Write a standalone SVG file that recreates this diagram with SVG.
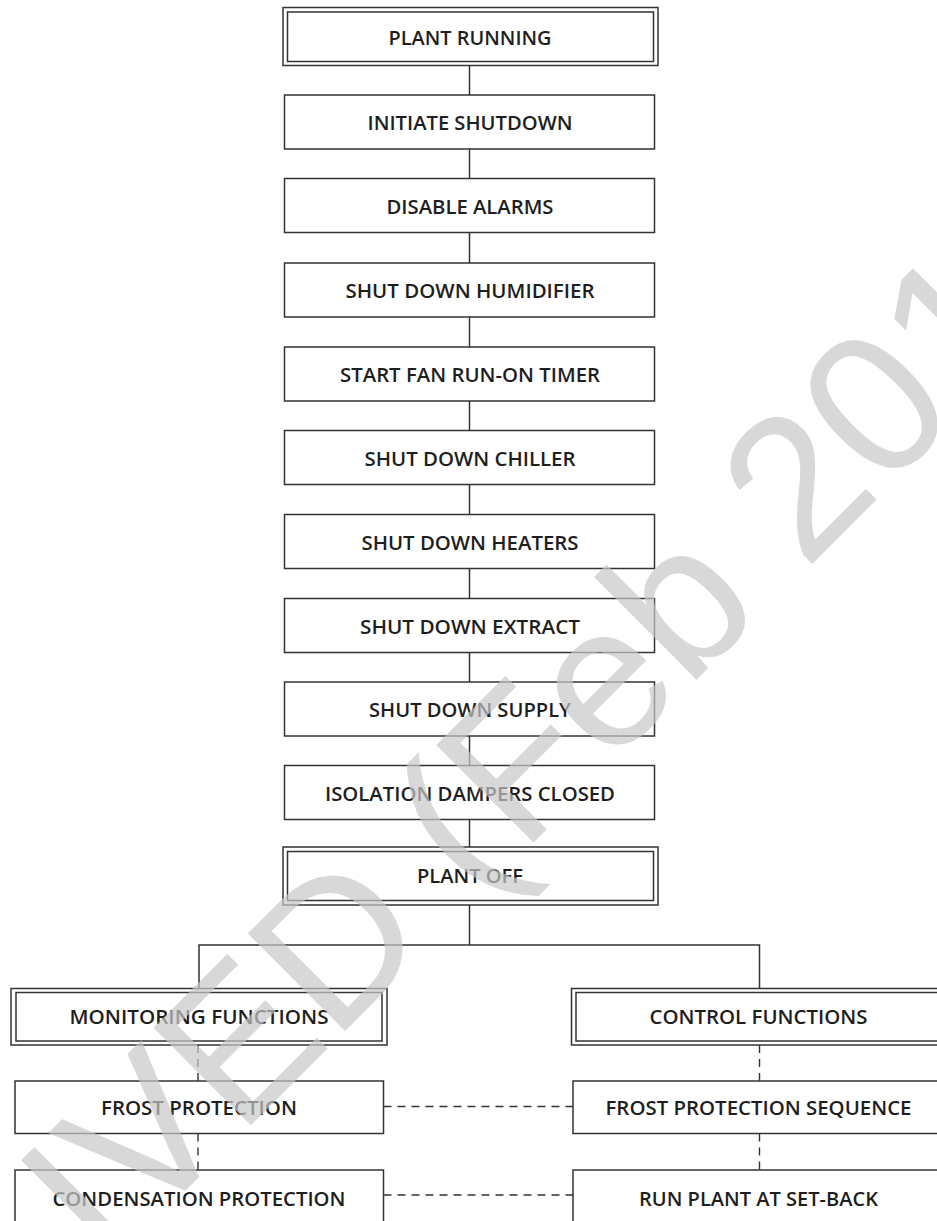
<svg xmlns="http://www.w3.org/2000/svg" width="937" height="1221" viewBox="0 0 937 1221">
<style>
.box{fill:#fff;stroke:#333;stroke-width:1.5}
.dbl{fill:none;stroke:#333;stroke-width:1.5}
.ln{fill:none;stroke:#333;stroke-width:1.5}
.dash{fill:none;stroke:#333;stroke-width:1.4;stroke-dasharray:8 6}
.lbl{font-family:"Open Sans","Noto Sans","Liberation Sans",sans-serif;font-weight:600;font-size:19.5px;fill:#1e1e1e;text-anchor:middle}
.wm{font-family:"Liberation Sans",Arial,sans-serif;font-size:200px;fill:#c8c8c8;opacity:0.7}
</style>
<rect width="937" height="1221" fill="#fff"/>
<g id="connectors">
<line class="ln" x1="469.5" y1="65.5" x2="469.5" y2="95"/>
<line class="ln" x1="469.5" y1="149" x2="469.5" y2="178.5"/>
<line class="ln" x1="469.5" y1="232.5" x2="469.5" y2="263"/>
<line class="ln" x1="469.5" y1="317" x2="469.5" y2="347"/>
<line class="ln" x1="469.5" y1="401" x2="469.5" y2="430.5"/>
<line class="ln" x1="469.5" y1="484.5" x2="469.5" y2="514.5"/>
<line class="ln" x1="469.5" y1="568.5" x2="469.5" y2="598.5"/>
<line class="ln" x1="469.5" y1="652.5" x2="469.5" y2="682"/>
<line class="ln" x1="469.5" y1="736" x2="469.5" y2="765.5"/>
<line class="ln" x1="469.5" y1="819.5" x2="469.5" y2="847"/>
<polyline class="ln" points="469.5,905 469.5,945"/>
<polyline class="ln" points="199,988.5 199,945 759.5,945 759.5,988.5"/>
<line class="dash" x1="198" y1="1045" x2="198" y2="1081"/>
<line class="dash" x1="198" y1="1133.5" x2="198" y2="1170"/>
<line class="dash" x1="759.5" y1="1045" x2="759.5" y2="1081"/>
<line class="dash" x1="759.5" y1="1133.5" x2="759.5" y2="1170"/>
<line class="dash" x1="383.5" y1="1106.5" x2="573" y2="1106.5"/>
<line class="dash" x1="383.5" y1="1195" x2="573" y2="1195"/>
</g>
<g id="plant-running">
<rect class="box" x="283" y="7.5" width="375" height="58"/>
<rect class="dbl" x="287.5" y="12" width="366" height="49.5"/>
<text class="lbl" x="470" y="45" textLength="163" lengthAdjust="spacingAndGlyphs">PLANT RUNNING</text>
</g>
<g id="initiate-shutdown">
<rect class="box" x="284.5" y="95" width="370" height="54"/>
<text class="lbl" x="470" y="130" textLength="205" lengthAdjust="spacingAndGlyphs">INITIATE SHUTDOWN</text>
</g>
<g id="disable-alarms">
<rect class="box" x="284.5" y="178.5" width="370" height="54"/>
<text class="lbl" x="470" y="213.5" textLength="167" lengthAdjust="spacingAndGlyphs">DISABLE ALARMS</text>
</g>
<g id="shut-down-humidifier">
<rect class="box" x="284.5" y="263" width="370" height="54"/>
<text class="lbl" x="470" y="298" textLength="249" lengthAdjust="spacingAndGlyphs">SHUT DOWN HUMIDIFIER</text>
</g>
<g id="start-fan-run-on-timer">
<rect class="box" x="284.5" y="347" width="370" height="54"/>
<text class="lbl" x="470" y="382" textLength="260" lengthAdjust="spacingAndGlyphs">START FAN RUN-ON TIMER</text>
</g>
<g id="shut-down-chiller">
<rect class="box" x="284.5" y="430.5" width="370" height="54"/>
<text class="lbl" x="470" y="465.5" textLength="211" lengthAdjust="spacingAndGlyphs">SHUT DOWN CHILLER</text>
</g>
<g id="shut-down-heaters">
<rect class="box" x="284.5" y="514.5" width="370" height="54"/>
<text class="lbl" x="470" y="549.5" textLength="217" lengthAdjust="spacingAndGlyphs">SHUT DOWN HEATERS</text>
</g>
<g id="shut-down-extract">
<rect class="box" x="284.5" y="598.5" width="370" height="54"/>
<text class="lbl" x="470" y="633.5" textLength="220" lengthAdjust="spacingAndGlyphs">SHUT DOWN EXTRACT</text>
</g>
<g id="shut-down-supply">
<rect class="box" x="284.5" y="682" width="370" height="54"/>
<text class="lbl" x="470" y="717" textLength="202" lengthAdjust="spacingAndGlyphs">SHUT DOWN SUPPLY</text>
</g>
<g id="isolation-dampers-closed">
<rect class="box" x="284.5" y="765.5" width="370" height="54"/>
<text class="lbl" x="470" y="800.5" textLength="290" lengthAdjust="spacingAndGlyphs">ISOLATION DAMPERS CLOSED</text>
</g>
<g id="plant-off">
<rect class="box" x="283" y="847" width="375" height="58"/>
<rect class="dbl" x="287.5" y="851.5" width="366" height="49"/>
<text class="lbl" x="470" y="883" textLength="106" lengthAdjust="spacingAndGlyphs">PLANT OFF</text>
</g>
<g id="monitoring-functions">
<rect class="box" x="11" y="988.5" width="376" height="56.5"/>
<rect class="dbl" x="16" y="992.5" width="366" height="48.5"/>
<text class="lbl" x="199" y="1024" textLength="259" lengthAdjust="spacingAndGlyphs">MONITORING FUNCTIONS</text>
</g>
<g id="control-functions">
<rect class="box" x="571.5" y="988.5" width="376" height="56.5"/>
<rect class="dbl" x="576" y="992.5" width="366" height="48.5"/>
<text class="lbl" x="758.5" y="1024" textLength="218" lengthAdjust="spacingAndGlyphs">CONTROL FUNCTIONS</text>
</g>
<g id="frost-protection">
<rect class="box" x="15" y="1081" width="368.5" height="52.5"/>
<text class="lbl" x="199" y="1115" textLength="196" lengthAdjust="spacingAndGlyphs">FROST PROTECTION</text>
</g>
<g id="frost-protection-sequence">
<rect class="box" x="573" y="1081" width="372" height="52.5"/>
<text class="lbl" x="758.5" y="1115" textLength="306" lengthAdjust="spacingAndGlyphs">FROST PROTECTION SEQUENCE</text>
</g>
<g id="condensation-protection">
<rect class="box" x="15" y="1170" width="368.5" height="60"/>
<text class="lbl" x="199" y="1205.5" textLength="293" lengthAdjust="spacingAndGlyphs">CONDENSATION PROTECTION</text>
</g>
<g id="run-plant-at-set-back">
<rect class="box" x="573" y="1170" width="372" height="60"/>
<text class="lbl" x="758.5" y="1205.5" textLength="239" lengthAdjust="spacingAndGlyphs">RUN PLANT AT SET-BACK</text>
</g>
<g id="watermark">
<text class="wm" x="105.6" y="1270.4" transform="rotate(-45 105.6 1270.4)">IVED (Feb 201</text>
</g>
</svg>
